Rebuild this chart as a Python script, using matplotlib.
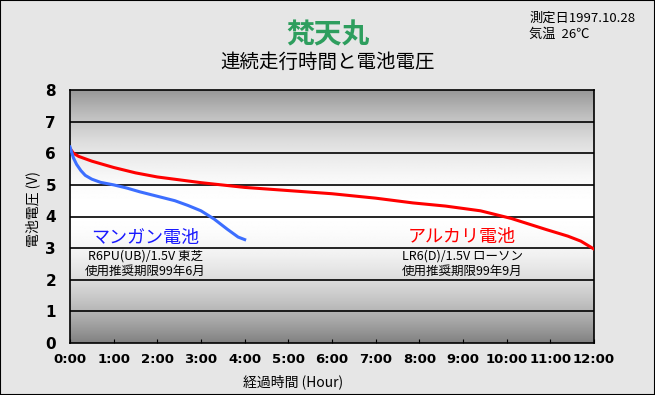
import numpy as np
import matplotlib
matplotlib.use("Agg")
import matplotlib.pyplot as plt
from matplotlib.patches import Rectangle

plt.rcParams['font.family'] = ['Noto Sans CJK JP', 'DejaVu Sans']

# données (heures, volts)
heures_mn = [0, 0.08, 0.15, 0.25, 0.35, 0.5, 0.7, 1.0, 1.3, 1.6, 2.0, 2.4, 2.7, 3.0, 3.3, 3.6, 3.85, 4.0]
volts_mn = [6.2, 5.85, 5.65, 5.45, 5.3, 5.18, 5.08, 5.0, 4.9, 4.78, 4.64, 4.5, 4.35, 4.18, 3.92, 3.6, 3.35, 3.27]

heures_alc = [0, 0.08, 0.2, 0.5, 1, 1.5, 2, 3, 4, 5, 6, 7, 7.85, 8.6, 9.4, 10.1, 10.9, 11.4, 11.7, 12.0]
volts_alc = [6.15, 6.0, 5.9, 5.75, 5.55, 5.38, 5.25, 5.07, 4.92, 4.82, 4.72, 4.58, 4.43, 4.33, 4.18, 3.94, 3.59, 3.38, 3.22, 2.97]

xticks = list(range(0, 13))
xlabels = [f"{h}:00" for h in xticks]
yticks = list(range(0, 9))

fig = plt.figure(figsize=(6.55, 3.95), dpi=100)
fig.patch.set_facecolor('#e6e6e6')
fig.patches.append(Rectangle((0, 0), 1, 1, transform=fig.transFigure,
                             fill=False, edgecolor='black', linewidth=1.5))

ax = fig.add_axes([70/655, 52/395, 524/655, 253/395])

# fond en dégradé gris -> blanc -> gris
v = np.linspace(8, 0, 256)
gris = 255 - 115 * ((v - 4.2) / 4.0) ** 2
img = np.repeat(gris[:, None], 2, axis=1) / 255.0
ax.imshow(img, cmap='gray', vmin=0, vmax=1, extent=[0, 12, 0, 8],
          aspect='auto', zorder=0, interpolation='bilinear')

for y in yticks[1:-1]:
    ax.axhline(y, color='black', linewidth=1.2, zorder=1)

ax.plot(heures_alc, volts_alc, color='#ff0000', linewidth=2.2, zorder=3)
ax.plot(heures_mn, volts_mn, color='#3c6eff', linewidth=2.2, zorder=3)

ax.set_xlim(0, 12)
ax.set_ylim(0, 8)
ax.set_xticks(xticks)
ax.set_xticklabels(xlabels, fontsize=9.5, family='DejaVu Sans', fontweight='bold')
ax.set_yticks(yticks)
ax.set_yticklabels([str(y) for y in yticks], fontsize=11, family='DejaVu Sans', fontweight='bold')
ax.tick_params(axis='x', direction='in', length=3, pad=7)
ax.tick_params(axis='y', length=0, pad=10)
for s in ax.spines.values():
    s.set_color('black')
    s.set_linewidth(1.2)

ax.set_xlabel("経過時間 (Hour)", fontsize=10)
ax.xaxis.set_label_coords((293 - 70) / 524, -31 / 253)
ax.set_ylabel("電池電圧 (V)", fontsize=10)
ax.yaxis.set_label_coords(-30 / 524, (343 - 209) / 253)

# textes
fig.text(328/655, 1 - 35/395, "梵天丸", color='#2e9e5e', fontsize=20,
         fontweight='bold', style='italic', ha='center', va='center')
fig.text(328/655, 1 - 62/395, "連続走行時間と電池電圧", fontsize=14,
         ha='center', va='center')
fig.text(529/655, 1 - 18/395, "測定日1997.10.28", fontsize=9.5, ha='left', va='center')
fig.text(529/655, 1 - 34/395, "気温  26℃", fontsize=9.5, ha='left', va='center')

fig.text(145/655, 1 - 238/395, "マンガン電池", color='#1a1aff', fontsize=13,
         ha='center', va='center')
fig.text(145/655, 1 - 256/395, "R6PU(UB)/1.5V 東芝", fontsize=9, ha='center', va='center')
fig.text(145/655, 1 - 271/395, "使用推奨期限99年6月", fontsize=9, ha='center', va='center')

fig.text(462/655, 1 - 237/395, "アルカリ電池", color='#ff0000', fontsize=13,
         ha='center', va='center')
fig.text(462/655, 1 - 256/395, "LR6(D)/1.5V ローソン", fontsize=9, ha='center', va='center')
fig.text(462/655, 1 - 271/395, "使用推奨期限99年9月", fontsize=9, ha='center', va='center')

fig.savefig("out.png", dpi=100, facecolor=fig.get_facecolor())
